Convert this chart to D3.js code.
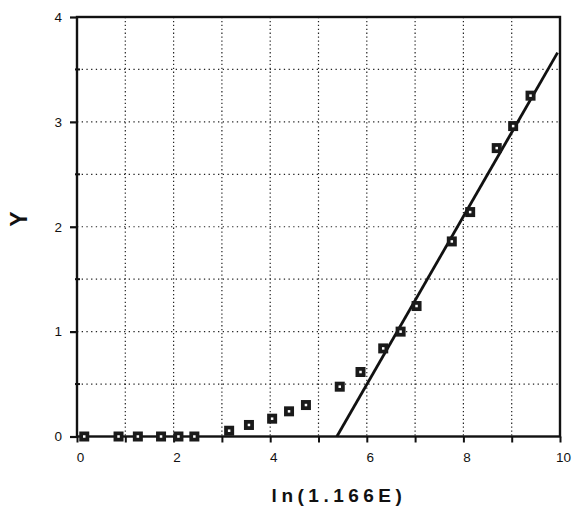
<!DOCTYPE html>
<html>
<head>
<meta charset="utf-8">
<script src="https://cdn.jsdelivr.net/npm/d3@7"></script>
<style>
  html, body { margin: 0; padding: 0; background: #fff; }
  svg { display: block; }
  text { font-family: "Liberation Sans", Arial, Helvetica, sans-serif; fill: #111; }
</style>
</head>
<body>
<svg id="chart" width="572" height="509"></svg>
<script>
// Measured points: x = ln(1.166E), y = Y
const xValues = [0.15, 0.86, 1.26, 1.74, 2.10, 2.43, 3.15, 3.56, 4.04, 4.39, 4.74,
                 5.44, 5.87, 6.34, 6.70, 7.03, 7.76, 8.14, 8.69, 9.03, 9.39];
const yValues = [0, 0, 0, 0, 0, 0, 0.055, 0.11, 0.17, 0.24, 0.30,
                 0.475, 0.615, 0.84, 1.00, 1.244, 1.86, 2.14, 2.75, 2.96, 3.25];

// Fitted straight line through the upper points: from the x-intercept up to the right edge
const fitX = [5.38, 9.95];
const fitY = [0, 3.66];

// Axis ticks
const xTickLabels = [0, 2, 4, 6, 8, 10];
const xTicks = [0, 1, 2, 3, 4, 5, 6, 7, 8, 9, 10];
const yTickLabels = [0, 1, 2, 3, 4];
const yMinorTicks = [0.5, 1.5, 2.5, 3.5];
const xGrid = [1, 2, 3, 4, 5, 6, 7, 8, 9];
const yGrid = [0.5, 1, 1.5, 2, 2.5, 3, 3.5];

const xTitle = "ln(1.166E)";
const yTitle = "Y";

const svg = d3.select("#chart");
const x = d3.scaleLinear().domain([0, 10]).range([77, 560]);
const y = d3.scaleLinear().domain([0, 4]).range([436.5, 17]);

// Dotted grid
svg.append("g")
  .selectAll("line.vg").data(xGrid).join("line")
  .attr("x1", d => x(d)).attr("x2", d => x(d))
  .attr("y1", y(4)).attr("y2", y(0))
  .attr("stroke", "#222").attr("stroke-width", 1.2)
  .attr("stroke-dasharray", "1.3,2.6");
svg.append("g")
  .selectAll("line.hg").data(yGrid).join("line")
  .attr("y1", d => y(d)).attr("y2", d => y(d))
  .attr("x1", x(0)).attr("x2", x(10))
  .attr("stroke", "#222").attr("stroke-width", 1.2)
  .attr("stroke-dasharray", "1.3,3.4");

// Bottom axis: ticks pointing down, labels every 2
const xAxis = d3.axisBottom(x).tickValues(xTicks).tickSize(6)
  .tickFormat(d => xTickLabels.includes(d) ? d3.format("d")(d) : "");
const gx = svg.append("g").attr("transform", `translate(0,${y(0)})`).call(xAxis);
gx.select(".domain").remove();
gx.selectAll(".tick line").attr("stroke", "#111").attr("stroke-width", 2);
gx.selectAll(".tick text").attr("font-size", 13.5).attr("dy", "1.2em").attr("dx", 3);

// Left axis: major ticks outward with labels, minor marks at the half units
const yAxis = d3.axisLeft(y).tickValues(yTickLabels).tickSize(7).tickPadding(8)
  .tickFormat(d3.format("d"));
const gy = svg.append("g").attr("transform", `translate(${x(0)},0)`).call(yAxis);
gy.select(".domain").remove();
gy.selectAll(".tick line").attr("stroke", "#111").attr("stroke-width", 2.2);
gy.selectAll(".tick text").attr("font-size", 13.5);
svg.append("g").selectAll("line").data(yMinorTicks).join("line")
  .attr("x1", x(0) - 2).attr("x2", x(0) + 3)
  .attr("y1", d => y(d)).attr("y2", d => y(d))
  .attr("stroke", "#111").attr("stroke-width", 2);

// Plot frame
svg.append("rect")
  .attr("x", x(0)).attr("y", y(4))
  .attr("width", x(10) - x(0)).attr("height", y(0) - y(4))
  .attr("fill", "none").attr("stroke", "#111").attr("stroke-width", 2.4);

// Fitted line
const pts = xValues.map((v, i) => ({ x: v, y: yValues[i] }));
const fit = fitX.map((v, i) => [x(v), y(fitY[i])]);
svg.append("path")
  .attr("d", d3.line()(fit))
  .attr("fill", "none").attr("stroke", "#111").attr("stroke-width", 2.8);

// Square markers
const s = 10;
const m = svg.append("g").selectAll("g").data(pts).join("g")
  .attr("transform", d => `translate(${x(d.x)},${y(d.y)})`);
m.append("rect")
  .attr("x", -s / 2).attr("y", -s / 2).attr("width", s).attr("height", s)
  .attr("fill", "#1a1a1a");
m.append("rect")
  .attr("x", -1.25).attr("y", -1.25).attr("width", 2.5).attr("height", 2.5)
  .attr("fill", "#fff");

// Axis titles
svg.append("text")
  .attr("x", 339).attr("y", 502)
  .attr("text-anchor", "middle")
  .attr("font-size", 19).attr("font-weight", "bold")
  .attr("letter-spacing", "4.5px")
  .text(xTitle);
svg.append("text")
  .attr("transform", "translate(27,219) rotate(-90)")
  .attr("text-anchor", "middle")
  .attr("font-size", 23).attr("font-weight", "bold")
  .text(yTitle);
</script>
</body>
</html>
